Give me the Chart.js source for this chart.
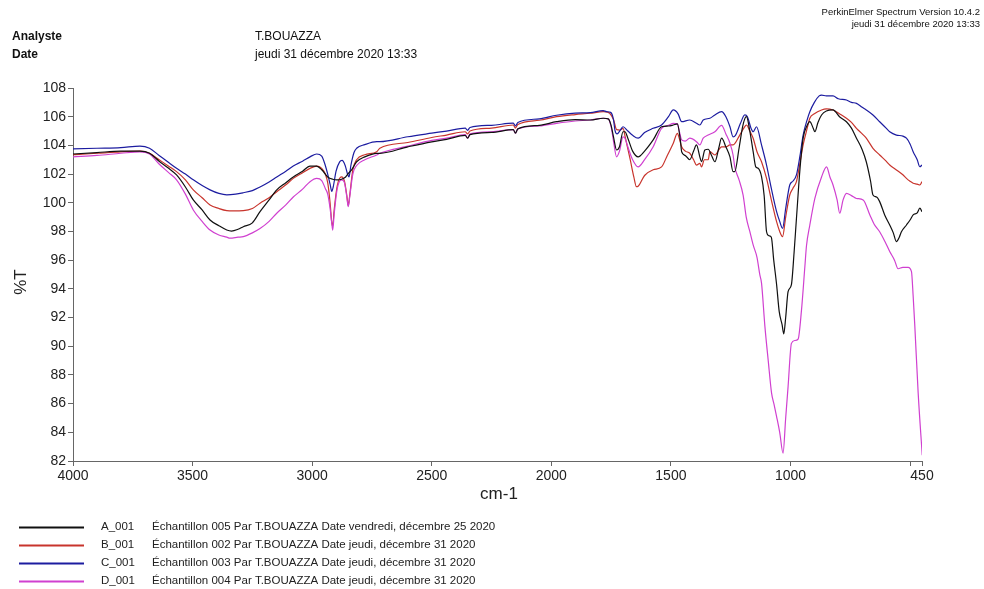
<!DOCTYPE html>
<html>
<head>
<meta charset="utf-8">
<script src="https://cdn.jsdelivr.net/npm/chart.js@4.4.1/dist/chart.umd.min.js"></script>
<style>
  html, body { margin: 0; padding: 0; background: #ffffff; }
  canvas { display: block; }
</style>
</head>
<body>
<canvas id="c" width="984" height="589"></canvas>
<script>
// ---------------- DATA ----------------
const seriesNames = ['A_001', 'B_001', 'C_001', 'D_001'];
const seriesDescs = [
  'Échantillon 005 Par T.BOUAZZA Date vendredi, décembre 25 2020',
  'Échantillon 002 Par T.BOUAZZA Date jeudi, décembre 31 2020',
  'Échantillon 003 Par T.BOUAZZA Date jeudi, décembre 31 2020',
  'Échantillon 004 Par T.BOUAZZA Date jeudi, décembre 31 2020'
];
const xTicks = [4000, 3500, 3000, 2500, 2000, 1500, 1000, 500, 450];
const xTickLabels = ['4000', '3500', '3000', '2500', '2000', '1500', '1000', '', '450'];
const yTicks = [82, 84, 86, 88, 90, 92, 94, 96, 98, 100, 102, 104, 106, 108];

// A_001 (black)
const wnA = [4000,3900,3800,3720,3680,3640,3600,3567,3530,3497,3460,3427,3390,3357,3337,3310,3288,3250,3218,3180,3148,3110,3079,3040,3009,2981,2960,2945,2935,2914,2895,2877,2860,2846,2835,2814,2780,2730,2717,2600,2500,2438,2360,2350,2340,2250,2159,2150,2140,2050,1978,1900,1837,1783,1762,1750,1740,1727,1715,1700,1692,1680,1660,1637,1610,1574,1539,1510,1490,1473,1460,1455,1440,1421,1405,1393,1379,1372,1358,1344,1330,1316,1300,1288,1270,1253,1240,1233,1215,1200,1190,1184,1170,1156,1145,1135,1121,1110,1100,1090,1080,1070,1058,1047,1035,1028,1020,1010,996,985,975,960,947,930,919,905,898,885,870,850,822,795,766,745,724,700,683,665,655,640,627,606,585,570,557,545,536,515,500,487,470,459,450];
const tA  = [103.4,103.5,103.6,103.6,103.45,102.9,102.4,101.94,101.1,100.2,99.5,98.8,98.4,98.1,98.03,98.15,98.33,98.6,99.38,100.2,100.9,101.4,101.8,102.2,102.56,102.56,102.3,102.0,101.8,101.64,101.6,101.64,101.8,102.1,102.3,102.86,103.2,103.45,103.45,103.9,104.25,104.42,104.7,104.5,104.75,104.9,105.1,104.85,105.15,105.4,105.65,105.8,105.77,105.89,105.85,105.4,104.6,103.68,103.9,104.95,104.95,104.5,103.6,103.2,103.6,104.38,105.3,105.35,105.42,105.5,104.3,103.56,103.3,103.0,103.6,104.03,103.2,102.86,103.68,103.73,103.3,102.86,103.8,104.5,103.9,103.2,102.17,102.17,103.8,105.3,105.9,106.0,105.0,103.56,102.5,102.4,101.82,100.5,97.98,97.7,97.6,96.0,94.3,92.41,91.5,90.86,92.0,93.8,94.3,96.5,98.9,102.4,104.5,105.4,105.65,105.2,104.95,105.6,106.12,106.4,106.47,106.0,105.65,105.2,104.5,103.7,102.86,101.5,100.54,100.4,100.08,99.15,98.45,97.9,97.29,97.6,97.98,98.45,98.8,99.15,99.3,99.62,99.38];

// B_001 (red)
const wnB = [4000,3900,3800,3720,3680,3640,3600,3567,3530,3497,3460,3427,3390,3357,3330,3288,3250,3218,3180,3148,3110,3079,3040,3009,2981,2960,2945,2935,2925,2918,2914,2908,2895,2877,2865,2855,2849,2843,2830,2814,2780,2730,2717,2600,2500,2438,2360,2350,2340,2250,2159,2150,2140,2050,1978,1900,1837,1783,1762,1740,1727,1713,1700,1690,1670,1655,1644,1637,1610,1574,1539,1515,1490,1473,1465,1455,1440,1421,1405,1393,1379,1372,1360,1344,1337,1316,1295,1288,1270,1253,1240,1212,1195,1184,1170,1156,1140,1121,1100,1080,1058,1045,1033,1020,1003,990,975,960,947,930,919,900,870,850,822,795,766,745,724,700,683,655,627,600,585,557,530,515,500,487,470,459,450];
const tB  = [103.35,103.45,103.55,103.6,103.45,103.0,102.55,102.17,101.6,100.9,100.35,99.85,99.6,99.45,99.43,99.45,99.6,99.97,100.35,100.77,101.25,101.7,102.1,102.4,102.56,102.4,102.0,101.4,100.0,98.6,98.4,99.5,101.2,101.8,101.5,100.5,99.8,100.5,102.3,103.0,103.35,103.56,103.8,104.2,104.55,104.72,104.95,104.8,105.0,105.2,105.42,105.2,105.45,105.75,106.0,106.15,106.24,106.35,106.3,105.8,105.1,105.07,105.19,104.5,103.0,101.8,101.12,101.15,101.9,102.3,102.5,103.3,104.15,104.84,104.5,103.9,103.6,103.45,103.0,102.63,102.75,102.5,103.0,103.0,103.56,103.33,103.8,103.9,103.9,104.03,104.03,104.72,105.2,105.42,105.0,104.5,103.56,102.86,101.7,100.2,98.68,98.0,97.64,99.0,100.54,101.0,101.47,102.8,104.03,105.2,105.89,106.2,106.47,106.55,106.47,106.2,105.89,105.6,105.19,104.8,104.5,103.8,103.33,102.9,102.63,102.29,101.95,101.7,101.5,101.36,101.3,101.24,101.47];

// C_001 (blue)
const wnC = [4000,3900,3800,3720,3680,3640,3600,3567,3530,3497,3460,3427,3390,3357,3320,3288,3250,3218,3180,3148,3110,3079,3040,3009,2981,2960,2945,2935,2925,2918,2912,2900,2885,2875,2862,2852,2846,2838,2825,2814,2780,2730,2717,2600,2500,2438,2360,2350,2340,2250,2159,2150,2140,2050,1978,1900,1837,1783,1769,1752,1740,1734,1725,1710,1700,1680,1660,1637,1610,1574,1539,1510,1490,1470,1455,1421,1393,1379,1365,1337,1316,1288,1270,1253,1240,1230,1210,1191,1180,1165,1156,1142,1121,1100,1080,1058,1045,1033,1020,1003,990,975,960,947,930,919,900,880,870,850,822,800,766,745,724,700,683,655,627,600,585,557,530,515,500,487,470,459,450];
const tC  = [103.75,103.8,103.85,103.95,103.8,103.3,102.8,102.4,102.0,101.6,101.2,100.9,100.65,100.55,100.6,100.7,100.85,101.1,101.45,101.8,102.2,102.56,102.9,103.2,103.4,103.25,102.6,102.0,101.3,100.8,101.1,102.2,102.85,102.95,102.6,102.0,101.8,102.6,103.5,103.8,104.05,104.26,104.26,104.6,104.85,105.0,105.2,105.05,105.25,105.4,105.55,105.35,105.6,105.85,106.1,106.25,106.28,106.42,106.35,106.3,105.8,105.07,104.8,105.1,105.3,105.0,104.7,104.5,104.9,105.19,105.42,106.0,106.47,106.2,105.65,105.77,105.54,105.42,105.77,105.89,106.12,106.35,106.0,105.3,104.6,104.7,105.5,106.12,106.0,105.2,104.95,105.3,104.03,102.63,101.0,99.38,98.7,98.22,99.6,101.24,101.5,101.94,103.3,104.72,105.8,106.35,107.0,107.45,107.51,107.45,107.45,107.25,107.16,107.0,106.93,106.65,106.47,106.12,105.65,105.2,104.95,104.72,104.65,104.5,104.1,103.56,103.0,102.51,102.63];

// D_001 (magenta)
const wnD = [4000,3900,3800,3720,3680,3640,3600,3567,3530,3497,3460,3427,3390,3357,3344,3310,3288,3250,3218,3180,3148,3110,3079,3040,3009,2981,2960,2945,2935,2925,2918,2914,2908,2895,2877,2865,2855,2849,2843,2830,2814,2780,2730,2717,2600,2500,2438,2360,2350,2340,2250,2159,2150,2140,2050,1978,1900,1837,1783,1762,1750,1740,1727,1715,1700,1692,1680,1660,1637,1610,1574,1539,1510,1490,1473,1465,1455,1440,1421,1393,1379,1365,1344,1316,1288,1270,1253,1240,1233,1215,1198,1185,1170,1156,1140,1128,1121,1107,1093,1079,1068,1058,1045,1031,1020,1010,996,982,968,954,940,933,919,898,870,849,835,822,805,794,780,766,745,724,696,668,650,627,605,585,565,550,530,508,494,487,480,466,449];
const tD  = [103.2,103.3,103.45,103.55,103.4,102.7,102.1,101.6,100.6,99.5,98.7,98.1,97.75,97.6,97.53,97.6,97.64,97.9,98.2,98.7,99.27,99.85,100.4,100.95,101.47,101.7,101.55,101.0,100.6,99.6,98.6,98.1,99.2,101.0,101.6,101.4,100.4,99.73,100.4,102.0,102.6,103.0,103.33,103.45,103.95,104.35,104.5,104.75,104.5,104.8,104.95,105.1,104.85,105.15,105.35,105.54,105.7,105.77,105.89,105.85,105.3,104.3,103.2,103.6,104.6,104.5,103.9,103.0,102.5,103.0,103.9,105.19,105.4,105.54,105.5,105.0,104.38,104.3,104.5,104.26,104.03,104.5,104.72,104.95,105.4,104.8,104.15,103.33,102.5,101.6,100.54,99.0,98.0,97.06,96.2,94.97,94.4,91.4,89.0,86.73,85.9,85.1,84.0,82.55,85.0,87.18,90.2,90.4,90.5,92.5,95.5,97.0,98.45,100.3,101.8,102.5,101.8,101.24,100.2,99.27,100.2,100.66,100.5,100.3,100.2,99.15,98.5,97.98,97.3,96.6,96.0,95.4,95.5,95.5,95.2,93.5,91.4,86.73,82.4];

// ---------------- STYLE ----------------
const seriesColors = ['#101010', '#c8342c', '#1c1ca0', '#d040d0'];
const FONT = '"Liberation Sans", Arial, sans-serif';

const xs = [wnA, wnB, wnC, wnD];
const ys = [tA, tB, tC, tD];

const datasets = seriesNames.map((name, i) => ({
  label: name,
  data: xs[i].map((w, k) => ({ x: w, y: ys[i][k] })),
  borderColor: seriesColors[i],
  borderWidth: 1.2,
  pointRadius: 0,
  fill: false,
  cubicInterpolationMode: 'monotone'
}));
// draw order: A on top like reference? keep D, C, B below A
datasets.forEach((d, i) => { d.order = i === 0 ? 0 : 4 - i; });

const textPlugin = {
  id: 'pageTexts',
  afterDraw(chart) {
    const ctx = chart.ctx;
    ctx.save();
    ctx.fillStyle = '#111';
    ctx.textBaseline = 'middle';
    // header
    ctx.textAlign = 'left';
    ctx.font = 'bold 12px ' + FONT;
    ctx.fillText('Analyste', 12, 37);
    ctx.fillText('Date', 12, 55);
    ctx.font = '12px ' + FONT;
    ctx.fillText('T.BOUAZZA', 255, 37);
    ctx.fillText('jeudi 31 décembre 2020 13:33', 255, 55);
    ctx.textAlign = 'right';
    ctx.font = '9.5px ' + FONT;
    ctx.fillText('PerkinElmer Spectrum Version 10.4.2', 980, 12);
    ctx.fillText('jeudi 31 décembre 2020 13:33', 980, 24);
    // axis titles
    ctx.textAlign = 'center';
    ctx.font = '17px ' + FONT;
    ctx.fillStyle = '#222';
    ctx.fillText('cm-1', 499, 494);
    ctx.save();
    ctx.translate(21, 282);
    ctx.rotate(-Math.PI / 2);
    ctx.fillText('%T', 0, 0);
    ctx.restore();
    // legend
    const rows = [527, 545, 563, 581];
    ctx.font = '11.5px ' + FONT;
    ctx.textAlign = 'left';
    chart.data.datasets.forEach((ds, i) => {
      const y = rows[i];
      ctx.strokeStyle = ds.borderColor;
      ctx.lineWidth = 2;
      ctx.beginPath();
      ctx.moveTo(19, y + 0.5);
      ctx.lineTo(84, y + 0.5);
      ctx.stroke();
      ctx.fillStyle = '#222';
      ctx.fillText(ds.label, 101, y);
      ctx.fillText(seriesDescs[i], 152, y);
    });
    ctx.restore();
  }
};

new Chart(document.getElementById('c'), {
  type: 'line',
  data: { datasets },
  options: {
    responsive: false,
    animation: false,
    devicePixelRatio: 1,
    layout: { padding: { top: 88, right: 62, left: 0, bottom: 0 } },
    plugins: { legend: { display: false }, tooltip: { enabled: false } },
    scales: {
      x: {
        type: 'linear',
        reverse: true,
        min: 450,
        max: 4000,
        afterBuildTicks: (s) => { s.ticks = xTicks.map(v => ({ value: v })); },
        afterFit: (s) => { s.height = 128; },
        ticks: {
          autoSkip: false,
          maxRotation: 0,
          padding: 2,
          color: '#222',
          font: { family: FONT, size: 14 },
          callback: (v) => { const i = xTicks.indexOf(v); return i >= 0 ? xTickLabels[i] : ''; }
        },
        grid: { display: true, drawOnChartArea: false, drawTicks: true, tickLength: 5, color: '#666' },
        border: { display: true, color: '#666', width: 1 }
      },
      y: {
        type: 'linear',
        min: 82,
        max: 108,
        afterBuildTicks: (s) => { s.ticks = yTicks.map(v => ({ value: v })); },
        afterFit: (s) => { s.width = 73; },
        ticks: {
          padding: 2,
          color: '#222',
          font: { family: FONT, size: 14 },
          callback: (v) => String(v)
        },
        grid: { display: true, drawOnChartArea: false, drawTicks: true, tickLength: 5, color: '#666' },
        border: { display: true, color: '#666', width: 1 }
      }
    }
  },
  plugins: [textPlugin]
});
</script>
</body>
</html>
